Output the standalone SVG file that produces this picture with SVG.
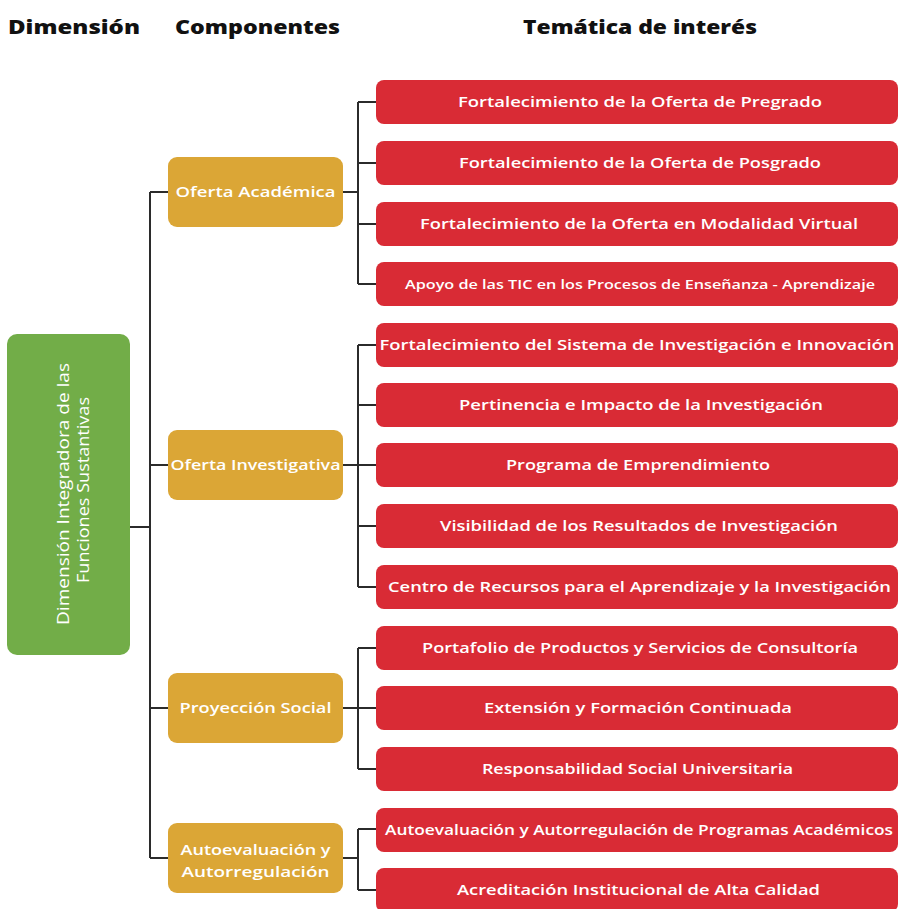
<svg xmlns="http://www.w3.org/2000/svg" width="900" height="909" viewBox="0 0 900 909">
<style>
.h{font-family:"Open Sans","Liberation Sans",sans-serif;font-weight:800;font-size:19px;fill:#111}
.red rect{fill:#d92b35}
.red text{font-family:"Open Sans","Liberation Sans",sans-serif;font-weight:600;font-size:15px;fill:#fff;text-anchor:middle}
.org rect{fill:#dba636}
.org text{font-family:"Open Sans","Liberation Sans",sans-serif;font-weight:600;font-size:15px;fill:#fff;text-anchor:middle}
.grn rect{fill:#72ad48}
.grn text{font-family:"Open Sans","Liberation Sans",sans-serif;font-weight:500;font-size:16px;fill:#fff;text-anchor:middle}
.c{stroke:#2b2b2b;stroke-width:2;fill:none}
</style>
<rect width="900" height="909" fill="#fff"/>
<text class="h" x="8" y="34" textLength="132" lengthAdjust="spacingAndGlyphs">Dimensión</text>
<text class="h" x="175" y="34" textLength="165" lengthAdjust="spacingAndGlyphs">Componentes</text>
<text class="h" x="523" y="34" textLength="234" lengthAdjust="spacingAndGlyphs">Temática de interés</text>

<g id="connectors">
<path class="c" d="M130 527H150M150 192V858M150 192H168M150 465H168M150 708H168M150 858H168"/>
<path class="c" d="M343 192H358M358 102V284M358 102H376M358 163H376M358 224H376M358 284H376"/>
<path class="c" d="M343 465H358M358 345V587M358 345H376M358 405H376M358 465H376M358 526H376M358 587H376"/>
<path class="c" d="M343 708H358M358 648V769M358 648H376M358 708H376M358 769H376"/>
<path class="c" d="M343 858H358M358 829V890M358 829H376M358 890H376"/>
</g>

<g id="dim" class="grn">
<rect x="7" y="334" width="123" height="321" rx="10"/>
<text transform="translate(68 494) rotate(-90)" x="0" y="1" textLength="262" lengthAdjust="spacingAndGlyphs">Dimensión Integradora de las</text>
<text transform="translate(68 490) rotate(-90)" x="0" y="21" textLength="186" lengthAdjust="spacingAndGlyphs">Funciones Sustantivas</text>
</g>

<g id="c1" class="org"><rect x="168" y="157" width="175" height="70" rx="9"/><text x="255.5" y="197" textLength="160" lengthAdjust="spacingAndGlyphs">Oferta Académica</text></g>
<g id="c2" class="org"><rect x="168" y="430" width="175" height="70" rx="9"/><text x="255.5" y="470" textLength="170" lengthAdjust="spacingAndGlyphs">Oferta Investigativa</text></g>
<g id="c3" class="org"><rect x="168" y="673" width="175" height="70" rx="9"/><text x="255.5" y="713" textLength="152" lengthAdjust="spacingAndGlyphs">Proyección Social</text></g>
<g id="c4" class="org"><rect x="168" y="823" width="175" height="70" rx="9"/><text x="255.5" y="855" textLength="150" lengthAdjust="spacingAndGlyphs">Autoevaluación y</text><text x="255.5" y="877" textLength="148" lengthAdjust="spacingAndGlyphs">Autorregulación</text></g>

<g id="t1" class="red"><rect x="376" y="80" width="522" height="44" rx="8"/><text x="640" y="107" textLength="364" lengthAdjust="spacingAndGlyphs">Fortalecimiento de la Oferta de Pregrado</text></g>
<g id="t2" class="red"><rect x="376" y="141" width="522" height="44" rx="8"/><text x="640" y="168" textLength="362" lengthAdjust="spacingAndGlyphs">Fortalecimiento de la Oferta de Posgrado</text></g>
<g id="t3" class="red"><rect x="376" y="202" width="522" height="44" rx="8"/><text x="639" y="229" textLength="438" lengthAdjust="spacingAndGlyphs">Fortalecimiento de la Oferta en Modalidad Virtual</text></g>
<g id="t4" class="red"><rect x="376" y="262" width="522" height="44" rx="8"/><text x="640" y="289" style="font-size:13px" textLength="470" lengthAdjust="spacingAndGlyphs">Apoyo de las TIC en los Procesos de Enseñanza - Aprendizaje</text></g>
<g id="t5" class="red"><rect x="376" y="323" width="522" height="44" rx="8"/><text x="637" y="350" textLength="515" lengthAdjust="spacingAndGlyphs">Fortalecimiento del Sistema de Investigación e Innovación</text></g>
<g id="t6" class="red"><rect x="376" y="383" width="522" height="44" rx="8"/><text x="641" y="410" textLength="364" lengthAdjust="spacingAndGlyphs">Pertinencia e Impacto de la Investigación</text></g>
<g id="t7" class="red"><rect x="376" y="443" width="522" height="44" rx="8"/><text x="638" y="470" textLength="264" lengthAdjust="spacingAndGlyphs">Programa de Emprendimiento</text></g>
<g id="t8" class="red"><rect x="376" y="504" width="522" height="44" rx="8"/><text x="639" y="531" textLength="398" lengthAdjust="spacingAndGlyphs">Visibilidad de los Resultados de Investigación</text></g>
<g id="t9" class="red"><rect x="376" y="565" width="522" height="44" rx="8"/><text x="639.5" y="592" textLength="503" lengthAdjust="spacingAndGlyphs">Centro de Recursos para el Aprendizaje y la Investigación</text></g>
<g id="t10" class="red"><rect x="376" y="626" width="522" height="44" rx="8"/><text x="640" y="653" textLength="436" lengthAdjust="spacingAndGlyphs">Portafolio de Productos y Servicios de Consultoría</text></g>
<g id="t11" class="red"><rect x="376" y="686" width="522" height="44" rx="8"/><text x="638" y="713" textLength="308" lengthAdjust="spacingAndGlyphs">Extensión y Formación Continuada</text></g>
<g id="t12" class="red"><rect x="376" y="747" width="522" height="44" rx="8"/><text x="637.5" y="774" textLength="311" lengthAdjust="spacingAndGlyphs">Responsabilidad Social Universitaria</text></g>
<g id="t13" class="red"><rect x="376" y="808" width="522" height="44" rx="8"/><text x="639" y="835" textLength="508" lengthAdjust="spacingAndGlyphs">Autoevaluación y Autorregulación de Programas Académicos</text></g>
<g id="t14" class="red"><rect x="376" y="868" width="522" height="44" rx="8"/><text x="638.5" y="895" textLength="363" lengthAdjust="spacingAndGlyphs">Acreditación Institucional de Alta Calidad</text></g>
</svg>
